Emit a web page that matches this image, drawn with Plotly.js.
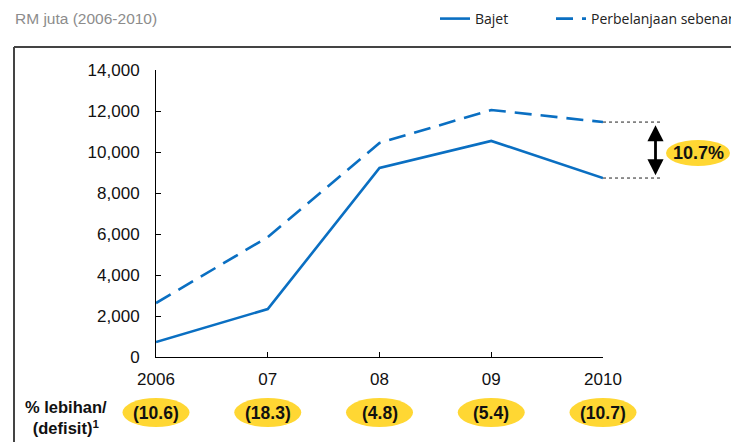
<!DOCTYPE html>
<html>
<head>
<meta charset="utf-8">
<script src="https://cdn.plot.ly/plotly-3.0.1.min.js"></script>
<style>html,body{margin:0;padding:0;background:#fff;}#chart{width:731px;height:442px;}</style>
</head>
<body>
<div id="chart"></div>
<script>
// Data
const years = [2006, 2007, 2008, 2009, 2010];
const yearLabels = ["2006", "07", "08", "09", "2010"];
const bajet = [730, 2340, 9220, 10540, 8730];
const perbelanjaan = [2630, 5850, 10440, 12050, 11460];
const pctLabels = ["(10.6)", "(18.3)", "(4.8)", "(5.4)", "(10.7)"];
const gapLabel = "10.7%";
const yTicks = [0, 2000, 4000, 6000, 8000, 10000, 12000, 14000];

const blue = "#0a6fc2";
const yellow = "#ffd733";
const last = years.length - 1;

// plot-area geometry (pixels) used to convert offsets into paper units
const plotW = 447, plotH = 287;
const xp = yr => (yr - years[0]) / (years[last] - years[0]);
const dx = px => px / plotW;
const dy = px => px / plotH;

const traces = [
  {x: years, y: bajet, name: "Bajet", type: "scatter", mode: "lines", legend: "legend",
   line: {color: blue, width: 2.6}},
  {x: years, y: perbelanjaan, name: "Perbelanjaan sebenar", type: "scatter", mode: "lines", legend: "legend2",
   line: {color: blue, width: 2.6, dash: "17px,9px"}}
];

const shapes = [];
const annotations = [];

// frame
shapes.push({type: "line", xref: "paper", yref: "paper", x0: -dx(142), x1: 1.5, y0: 1 + dy(23), y1: 1 + dy(23),
  line: {color: "#444", width: 2}});
shapes.push({type: "line", xref: "paper", yref: "paper", x0: -dx(142), x1: -dx(142), y0: 1 + dy(23), y1: -0.4,
  line: {color: "#444", width: 2}});

// yellow ovals with % values
years.forEach((yr, i) => {
  const c = xp(yr);
  shapes.push({type: "circle", xref: "paper", yref: "paper", x0: c - dx(33.5), x1: c + dx(33.5),
    y0: -dy(70), y1: -dy(41), fillcolor: yellow, line: {width: 0}});
  annotations.push({x: c, xref: "paper", y: -dy(55.5), yref: "paper", text: pctLabels[i], showarrow: false,
    font: {family: "Liberation Sans, Arial", size: 17.5, color: "#111", weight: "bold"},
    xanchor: "center", yanchor: "middle"});
});

// dotted reference lines at last point
const xl = xp(years[last]);
[bajet[last], perbelanjaan[last]].forEach(v => {
  shapes.push({type: "line", xref: "paper", yref: "y", x0: xl, x1: xl + dx(59), y0: v, y1: v,
    line: {color: "#222", width: 1, dash: "dot"}});
});

// gap oval
shapes.push({type: "circle", xref: "paper", yref: "paper", x0: xl + dx(63), x1: xl + dx(127),
  y0: 1 - dy(287 - 191), y1: 1 - dy(287 - 217), fillcolor: yellow, line: {width: 0}});
annotations.push({x: xl + dx(95), xref: "paper", y: 1 - dy(287 - 204), yref: "paper", text: gapLabel,
  showarrow: false, xanchor: "center", yanchor: "middle",
  font: {family: "Liberation Sans, Arial", size: 18, color: "#111", weight: "bold"}});

// double arrow
annotations.push({x: xl + dx(52.5), xref: "paper", y: perbelanjaan[last] - 150, yref: "y",
  ax: 0, axref: "pixel", ay: bajet[last] + 60, ayref: "y",
  text: "", showarrow: true, arrowhead: 2, arrowside: "end+start", arrowsize: 1.15, arrowwidth: 2.8, arrowcolor: "#000"});

// left row label
annotations.push({x: -dx(90), xref: "paper", y: -dy(60), yref: "paper", xanchor: "center", yanchor: "middle",
  text: "% lebihan/<br>(defisit)<sup>1</sup>", showarrow: false, align: "center",
  font: {family: "Liberation Sans, Arial", size: 16.5, color: "#111", weight: "bold"}});

// subtitle
annotations.push({x: -dx(143), xref: "paper", y: 1 + dy(51), yref: "paper", xanchor: "left", yanchor: "middle",
  text: "RM juta (2006-2010)", showarrow: false,
  font: {family: "Liberation Sans, Arial", size: 15.5, color: "#8c8c8c"}});

const legendBase = {orientation: "h", xref: "container", yref: "container", xanchor: "left",
  y: 1 - 19 / 442, yanchor: "middle",
  font: {family: "Open Sans", size: 14, color: "#222"}, bgcolor: "rgba(0,0,0,0)"};

const layout = {
  width: 731, height: 442, autosize: false,
  margin: {l: 156, r: 128, t: 70, b: 85},
  paper_bgcolor: "#fff", plot_bgcolor: "#fff",
  showlegend: true,
  legend: Object.assign({}, legendBase, {x: 435 / 731}),
  legend2: Object.assign({}, legendBase, {x: 551 / 731}),
  xaxis: {range: [years[0], years[last]], tickvals: years, ticktext: yearLabels,
    showline: true, linecolor: "#000", linewidth: 1, ticks: "inside", ticklen: 5, tickcolor: "#000",
    showgrid: false, zeroline: false, ticklabelstandoff: 7,
    tickfont: {family: "Liberation Sans, Arial", size: 17, color: "#111"}},
  yaxis: {range: [0, 14000], tickvals: yTicks, tickformat: ",d",
    showline: true, linecolor: "#000", linewidth: 1, ticks: "inside", ticklen: 5, tickcolor: "#000",
    showgrid: false, zeroline: false, ticklabelstandoff: 12,
    tickfont: {family: "Liberation Sans, Arial", size: 17, color: "#111"}},
  shapes: shapes,
  annotations: annotations
};

Plotly.newPlot("chart", traces, layout, {displayModeBar: false, staticPlot: true});
</script>
</body>
</html>
